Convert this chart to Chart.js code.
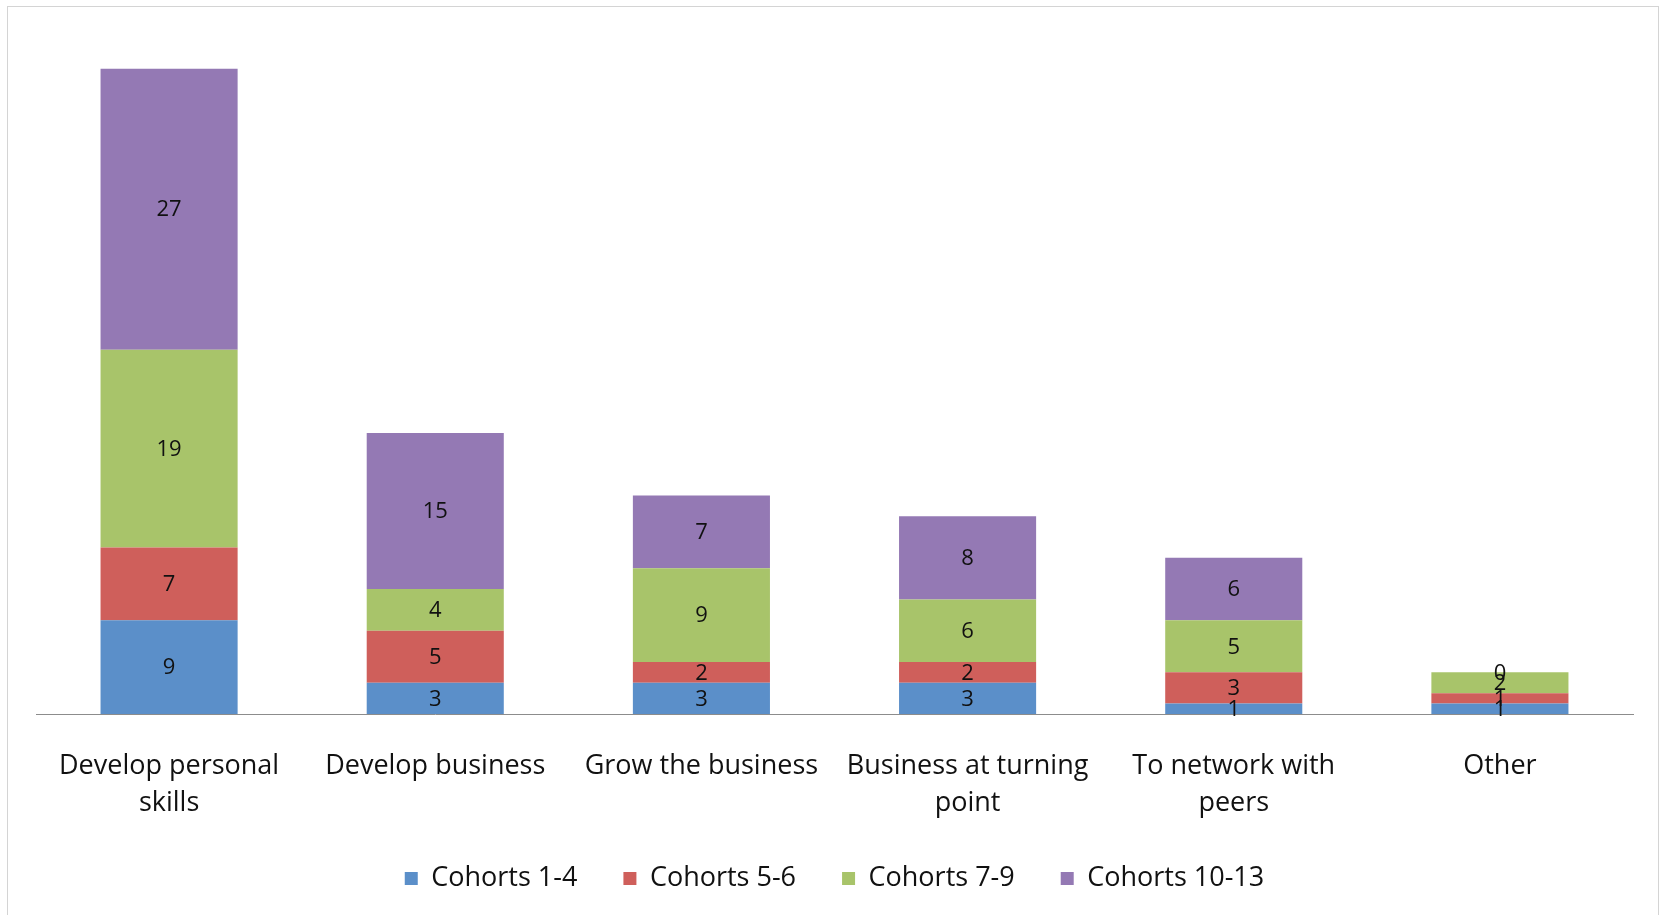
<!DOCTYPE html>
<html lang="en">
<head>
    <meta charset="UTF-8">
    <title>Reasons for joining, by cohort</title>
    <script src="https://cdn.jsdelivr.net/npm/chart.js"></script>
    <style>
        body {
            margin: 0;
            padding: 0;
            background: #fff;
            font-family: "Open Sans", sans-serif;
        }
        .frame {
            position: absolute;
            left: 7px;
            top: 6px;
            width: 1650px;
            height: 930px;
            border: 1px solid #d4d4d4;
        }
        #chart {
            position: absolute;
            left: 0;
            top: 0;
        }
    </style>
</head>
<body>
    <div class="frame"></div>
    <canvas id="chart" width="1663" height="915"></canvas>
    <script>
        const categories = [
            ['Develop personal', 'skills'],
            'Develop business',
            'Grow the business',
            ['Business at turning', 'point'],
            ['To network with', 'peers'],
            'Other'
        ];
        const cohorts1to4 = [9, 3, 3, 3, 1, 1];
        const cohorts5to6 = [7, 5, 2, 2, 3, 1];
        const cohorts7to9 = [19, 4, 9, 6, 5, 2];
        const cohorts10to13 = [27, 15, 7, 8, 6, 0];

        const FONT = '"Open Sans", sans-serif';

        // writes each segment's value in the middle of its bar piece
        const segmentLabels = {
            id: 'segmentLabels',
            afterDatasetsDraw(chart) {
                const ctx = chart.ctx;
                ctx.save();
                ctx.font = '22px ' + FONT;
                ctx.fillStyle = '#111';
                ctx.textAlign = 'center';
                ctx.textBaseline = 'middle';
                chart.data.datasets.forEach((ds, i) => {
                    const meta = chart.getDatasetMeta(i);
                    meta.data.forEach((bar, j) => {
                        const p = bar.getProps(['x', 'y', 'base'], true);
                        ctx.fillText(String(ds.data[j]), p.x, (p.y + p.base) / 2 + 1);
                    });
                });
                ctx.restore();
            }
        };

        const ds = (label, data, color) => ({
            label: label,
            data: data,
            backgroundColor: color,
            borderWidth: 0,
            categoryPercentage: 1,
            barPercentage: 0.515
        });

        new Chart(document.getElementById('chart'), {
            type: 'bar',
            data: {
                labels: categories,
                datasets: [
                    ds('Cohorts 1-4', cohorts1to4, '#5b8fc9'),
                    ds('Cohorts 5-6', cohorts5to6, '#cf5f5b'),
                    ds('Cohorts 7-9', cohorts7to9, '#a8c46a'),
                    ds('Cohorts 10-13', cohorts10to13, '#9479b4')
                ]
            },
            options: {
                responsive: false,
                animation: false,
                layout: {
                    padding: { left: 36, right: 30, top: 27, bottom: 13 }
                },
                scales: {
                    x: {
                        stacked: true,
                        grid: { display: false, drawTicks: false },
                        border: { display: true, color: '#8c8c8c', width: 1 },
                        ticks: {
                            color: '#111',
                            padding: 34,
                            maxRotation: 0,
                            autoSkip: false,
                            font: { family: FONT, size: 27, lineHeight: 37 / 27 }
                        },
                        afterFit(scale) {
                            scale.height -= 37;
                        }
                    },
                    y: {
                        stacked: true,
                        display: false,
                        min: 0,
                        max: 66
                    }
                },
                plugins: {
                    tooltip: { enabled: false },
                    legend: {
                        position: 'bottom',
                        labels: {
                            color: '#111',
                            boxWidth: 13,
                            boxHeight: 13,
                            padding: 46,
                            font: { family: FONT, size: 27 }
                        }
                    }
                }
            },
            plugins: [segmentLabels]
        });
    </script>
</body>
</html>
